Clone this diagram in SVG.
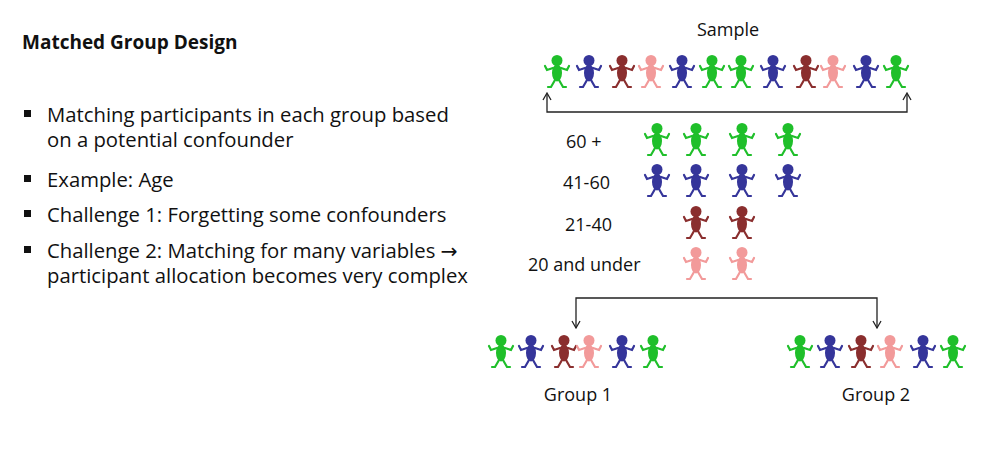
<svg xmlns="http://www.w3.org/2000/svg" width="981" height="454" viewBox="0 0 981 454">
<style>
text{font-family:"Open Sans","Liberation Sans",sans-serif;fill:#111}
.b{font-size:20.3px}
.l{font-size:18px}
.c{stroke:#222;stroke-width:1.3;fill:none}
.g{color:#1fbf2a}.u{color:#35359a}.m{color:#8a2e2e}.p{color:#f29a9a}
</style>
<defs>
<symbol id="fig" overflow="visible">
<circle cx="0" cy="-12.5" r="5.5" fill="currentColor"/>
<ellipse cx="0" cy="0" rx="5" ry="8.5" fill="currentColor"/>
<path d="M-4,-5 L-10,-3 L-12,-7 M4,-5 L10,-3 L12,-7 M-2,7 L-6,14 L-9,14 M2,7 L6,14 L9,14" stroke="currentColor" stroke-width="2.2" fill="none" stroke-linecap="round"/>
</symbol>
</defs>
<g id="text-left">
<text x="22" y="49" style="font-size:19px;font-weight:bold">Matched Group Design</text>
<g fill="#111"><rect x="24" y="110" width="7" height="7"/><rect x="24" y="175" width="7" height="7"/><rect x="24" y="210" width="7" height="7"/><rect x="24" y="246" width="7" height="7"/></g>
<text class="b" x="47" y="122">Matching participants in each group based</text>
<text class="b" x="47" y="147">on a potential confounder</text>
<text class="b" x="47" y="187">Example: Age</text>
<text class="b" x="47" y="222">Challenge 1: Forgetting some confounders</text>
<text class="b" x="47" y="258">Challenge 2: Matching for many variables <tspan style="font-family:'DejaVu Sans',sans-serif">→</tspan></text>
<text class="b" x="47" y="283">participant allocation becomes very complex</text>
</g>
<g id="labels" class="l">
<text x="728" y="36" text-anchor="middle">Sample</text>
<text x="566" y="148">60 +</text>
<text x="563" y="189">41-60</text>
<text x="565" y="231">21-40</text>
<text x="528" y="271">20 and under</text>
<text x="578" y="401" text-anchor="middle">Group 1</text>
<text x="876" y="401" text-anchor="middle">Group 2</text>
</g>
<g id="connectors">
<path class="c" d="M547,94 V112 H907 V94"/>
<path class="c" d="M543,100 L547,93 L551,100 M903,100 L907,93 L911,100"/>
<path class="c" d="M576,328 V298 H877 V328"/>
<path class="c" d="M572,321 L576,328 L580,321 M873,321 L877,328 L881,321"/>
</g>
<g id="sample">
<use href="#fig" x="557" y="73" class="g"/><use href="#fig" x="589" y="73" class="u"/><use href="#fig" x="622" y="73" class="m"/><use href="#fig" x="651" y="73" class="p"/><use href="#fig" x="682" y="73" class="u"/><use href="#fig" x="712" y="73" class="g"/><use href="#fig" x="741" y="73" class="g"/><use href="#fig" x="773" y="73" class="u"/><use href="#fig" x="806" y="73" class="m"/><use href="#fig" x="833" y="73" class="p"/><use href="#fig" x="866" y="73" class="u"/><use href="#fig" x="896" y="73" class="g"/>
</g>
<g id="strata">
<use href="#fig" x="657" y="141" class="g"/><use href="#fig" x="696" y="141" class="g"/><use href="#fig" x="742" y="141" class="g"/><use href="#fig" x="788" y="141" class="g"/>
<use href="#fig" x="657" y="182" class="u"/><use href="#fig" x="696" y="182" class="u"/><use href="#fig" x="742" y="182" class="u"/><use href="#fig" x="788" y="182" class="u"/>
<use href="#fig" x="696" y="224" class="m"/><use href="#fig" x="742" y="224" class="m"/>
<use href="#fig" x="696" y="265" class="p"/><use href="#fig" x="742" y="265" class="p"/>
</g>
<g id="group1">
<use href="#fig" x="501" y="353" class="g"/><use href="#fig" x="531" y="353" class="u"/><use href="#fig" x="564" y="353" class="m"/><use href="#fig" x="589" y="353" class="p"/><use href="#fig" x="622" y="353" class="u"/><use href="#fig" x="653" y="353" class="g"/>
</g>
<g id="group2">
<use href="#fig" x="800" y="353" class="g"/><use href="#fig" x="830" y="353" class="u"/><use href="#fig" x="861" y="353" class="m"/><use href="#fig" x="890" y="353" class="p"/><use href="#fig" x="923" y="353" class="u"/><use href="#fig" x="953" y="353" class="g"/>
</g>
</svg>
